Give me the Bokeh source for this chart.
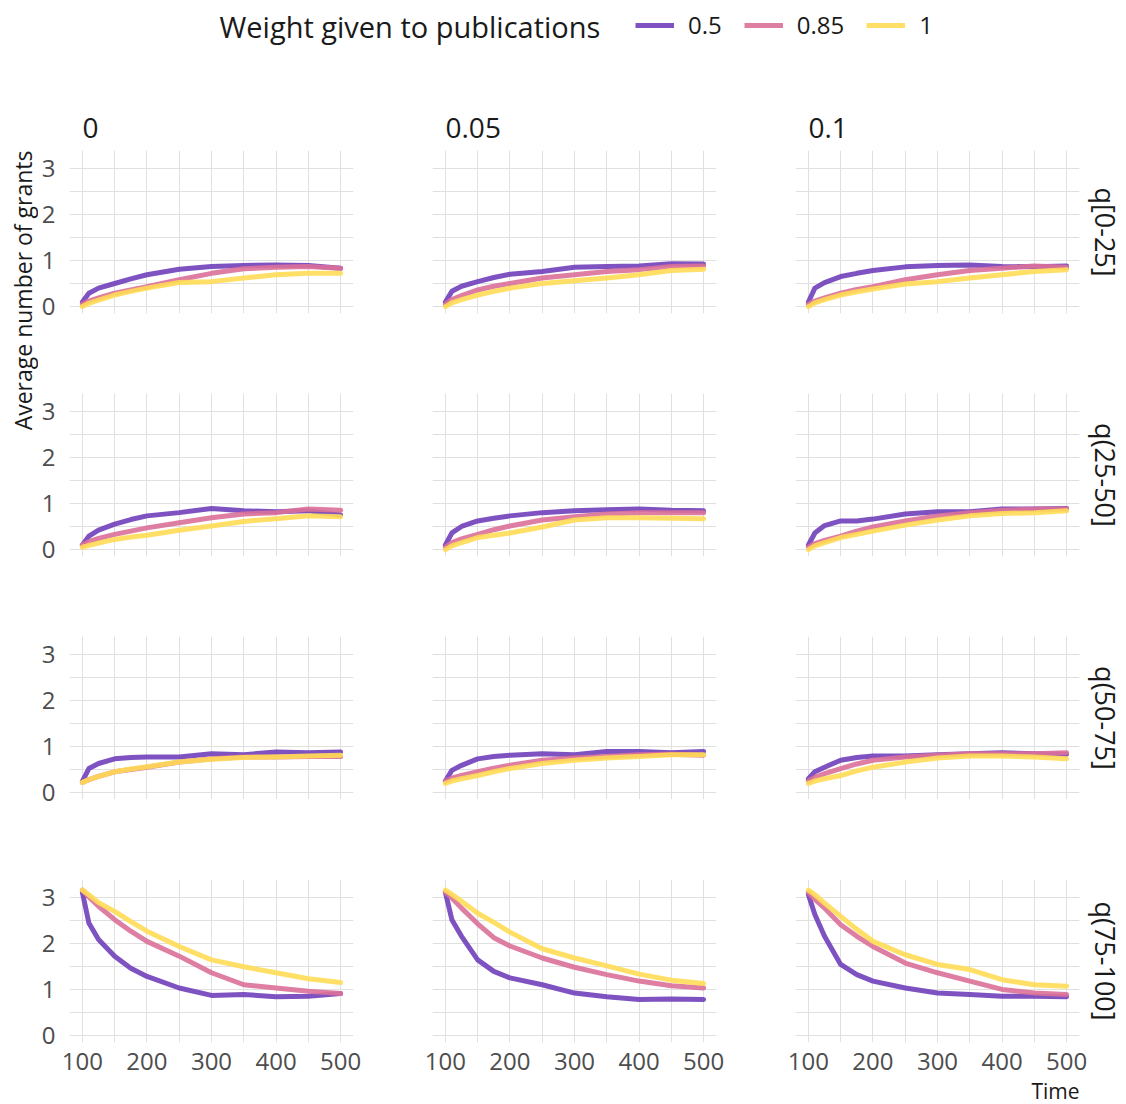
import numpy as np
from bokeh.plotting import figure
from bokeh.layouts import row, column
from bokeh.models import Range1d, FixedTicker, Title, Label, Legend, LegendItem
from bokeh.embed import file_html
from bokeh.resources import INLINE

# ---------------- data ----------------
time = [100, 110, 125, 150, 175, 200, 250, 300, 350, 400, 450, 500]
weight_labels = ["0.5", "0.85", "1"]
col_labels = ["0", "0.05", "0.1"]
row_labels = ["q[0-25]", "q(25-50]", "q(50-75]", "q(75-100]"]
x_ticks = [100, 200, 300, 400, 500]
y_ticks = [0, 1, 2, 3]

# row q[0-25]
q1_c0_w050 = [0.10, 0.29, 0.40, 0.50, 0.60, 0.69, 0.81, 0.87, 0.89, 0.90, 0.89, 0.83]
q1_c0_w085 = [0.05, 0.12, 0.19, 0.29, 0.36, 0.43, 0.58, 0.72, 0.82, 0.85, 0.87, 0.83]
q1_c0_w100 = [0.00, 0.07, 0.14, 0.25, 0.33, 0.40, 0.52, 0.54, 0.62, 0.69, 0.72, 0.72]
q1_c1_w050 = [0.10, 0.33, 0.44, 0.54, 0.63, 0.70, 0.76, 0.85, 0.87, 0.88, 0.93, 0.92]
q1_c1_w085 = [0.05, 0.15, 0.24, 0.36, 0.44, 0.50, 0.62, 0.69, 0.76, 0.80, 0.87, 0.88]
q1_c1_w100 = [0.00, 0.08, 0.15, 0.25, 0.33, 0.40, 0.50, 0.56, 0.62, 0.69, 0.78, 0.81]
q1_c2_w050 = [0.10, 0.40, 0.52, 0.65, 0.72, 0.78, 0.86, 0.89, 0.90, 0.87, 0.86, 0.88]
q1_c2_w085 = [0.05, 0.12, 0.19, 0.29, 0.37, 0.43, 0.58, 0.69, 0.78, 0.83, 0.88, 0.85]
q1_c2_w100 = [0.00, 0.08, 0.15, 0.25, 0.32, 0.38, 0.49, 0.54, 0.62, 0.69, 0.76, 0.80]
# row q(25-50]
q2_c0_w050 = [0.10, 0.29, 0.42, 0.55, 0.65, 0.73, 0.80, 0.89, 0.84, 0.82, 0.84, 0.75]
q2_c0_w085 = [0.10, 0.17, 0.24, 0.33, 0.40, 0.47, 0.58, 0.69, 0.77, 0.80, 0.88, 0.85]
q2_c0_w100 = [0.05, 0.09, 0.14, 0.22, 0.27, 0.31, 0.42, 0.51, 0.61, 0.67, 0.73, 0.71]
q2_c1_w050 = [0.10, 0.36, 0.50, 0.62, 0.68, 0.73, 0.80, 0.84, 0.86, 0.88, 0.85, 0.84]
q2_c1_w085 = [0.05, 0.15, 0.23, 0.33, 0.43, 0.51, 0.64, 0.71, 0.77, 0.80, 0.80, 0.80]
q2_c1_w100 = [0.00, 0.08, 0.15, 0.26, 0.31, 0.36, 0.49, 0.64, 0.69, 0.69, 0.68, 0.67]
q2_c2_w050 = [0.10, 0.36, 0.52, 0.62, 0.62, 0.66, 0.77, 0.82, 0.82, 0.88, 0.88, 0.89]
q2_c2_w085 = [0.05, 0.13, 0.20, 0.29, 0.40, 0.49, 0.62, 0.73, 0.80, 0.85, 0.88, 0.88]
q2_c2_w100 = [0.00, 0.08, 0.15, 0.26, 0.33, 0.40, 0.53, 0.64, 0.73, 0.78, 0.80, 0.84]
# row q(50-75]
q3_c0_w050 = [0.25, 0.52, 0.63, 0.73, 0.76, 0.77, 0.77, 0.84, 0.82, 0.88, 0.86, 0.88]
q3_c0_w085 = [0.22, 0.28, 0.35, 0.45, 0.50, 0.55, 0.66, 0.73, 0.77, 0.77, 0.78, 0.78]
q3_c0_w100 = [0.22, 0.28, 0.35, 0.45, 0.51, 0.56, 0.66, 0.72, 0.76, 0.77, 0.79, 0.81]
q3_c1_w050 = [0.25, 0.48, 0.59, 0.73, 0.78, 0.81, 0.84, 0.82, 0.89, 0.89, 0.86, 0.89]
q3_c1_w085 = [0.25, 0.31, 0.37, 0.45, 0.53, 0.59, 0.70, 0.75, 0.78, 0.82, 0.83, 0.81]
q3_c1_w100 = [0.20, 0.25, 0.30, 0.37, 0.45, 0.52, 0.63, 0.70, 0.75, 0.78, 0.82, 0.82]
q3_c2_w050 = [0.30, 0.45, 0.55, 0.70, 0.76, 0.79, 0.79, 0.82, 0.84, 0.86, 0.84, 0.83]
q3_c2_w085 = [0.25, 0.33, 0.41, 0.52, 0.62, 0.70, 0.77, 0.81, 0.84, 0.84, 0.84, 0.86]
q3_c2_w100 = [0.20, 0.25, 0.30, 0.37, 0.47, 0.55, 0.66, 0.75, 0.79, 0.79, 0.77, 0.73]
# row q(75-100]
q4_c0_w050 = [3.10, 2.44, 2.08, 1.72, 1.46, 1.28, 1.03, 0.87, 0.89, 0.84, 0.85, 0.91]
q4_c0_w085 = [3.15, 3.00, 2.80, 2.51, 2.26, 2.04, 1.72, 1.36, 1.10, 1.03, 0.96, 0.91]
q4_c0_w100 = [3.15, 3.05, 2.88, 2.69, 2.47, 2.26, 1.93, 1.64, 1.49, 1.36, 1.23, 1.15]
q4_c1_w050 = [3.10, 2.51, 2.15, 1.64, 1.39, 1.25, 1.10, 0.92, 0.84, 0.78, 0.79, 0.78]
q4_c1_w085 = [3.10, 2.98, 2.76, 2.42, 2.12, 1.94, 1.68, 1.48, 1.32, 1.18, 1.08, 1.03]
q4_c1_w100 = [3.15, 3.06, 2.91, 2.65, 2.45, 2.24, 1.88, 1.68, 1.51, 1.33, 1.20, 1.13]
q4_c2_w050 = [3.05, 2.62, 2.15, 1.54, 1.32, 1.18, 1.03, 0.92, 0.89, 0.85, 0.85, 0.84]
q4_c2_w085 = [3.10, 2.95, 2.76, 2.40, 2.15, 1.93, 1.57, 1.36, 1.18, 1.00, 0.92, 0.89]
q4_c2_w100 = [3.15, 3.05, 2.87, 2.58, 2.30, 2.04, 1.75, 1.54, 1.43, 1.21, 1.10, 1.07]

panels = [
    [[q1_c0_w050, q1_c0_w085, q1_c0_w100], [q1_c1_w050, q1_c1_w085, q1_c1_w100], [q1_c2_w050, q1_c2_w085, q1_c2_w100]],
    [[q2_c0_w050, q2_c0_w085, q2_c0_w100], [q2_c1_w050, q2_c1_w085, q2_c1_w100], [q2_c2_w050, q2_c2_w085, q2_c2_w100]],
    [[q3_c0_w050, q3_c0_w085, q3_c0_w100], [q3_c1_w050, q3_c1_w085, q3_c1_w100], [q3_c2_w050, q3_c2_w085, q3_c2_w100]],
    [[q4_c0_w050, q4_c0_w085, q4_c0_w100], [q4_c1_w050, q4_c1_w085, q4_c1_w100], [q4_c2_w050, q4_c2_w085, q4_c2_w100]],
]

# ---------------- style ----------------
FONT = "Open Sans"
COLORS = ["#7040BA", "#DB7099", "#FFDB55"]
ALPHA = 0.9
GRID = "#e0e0e0"
TEXT = "#1a1a1a"
TICK = "#4d4d4d"

FW, FH = 284, 163
col_w_left = [30, 60, 60]
col_w_right = [19, 19, 46]
row_top = [90, 42, 42, 42]
row_bottom = [38, 38, 38, 55]
LEG_H = 60
STRIP_W = 38

rows = []
for r in range(4):
    figs = []
    for c in range(3):
        p = figure(frame_width=FW, frame_height=FH,
                   x_range=Range1d(80, 520), y_range=Range1d(-0.15, 3.38),
                   output_backend="svg", toolbar_location=None,
                   min_border_left=col_w_left[c], min_border_right=col_w_right[c],
                   min_border_top=row_top[r], min_border_bottom=row_bottom[r],
                   outline_line_color=None, background_fill_color="white",
                   border_fill_color="white")
        p.xaxis.ticker = FixedTicker(ticks=x_ticks)
        p.yaxis.ticker = FixedTicker(ticks=y_ticks)
        p.xgrid.ticker = FixedTicker(ticks=x_ticks, minor_ticks=[150, 250, 350, 450])
        p.ygrid.ticker = FixedTicker(ticks=y_ticks, minor_ticks=[0.5, 1.5, 2.5])
        for g in (p.xgrid, p.ygrid):
            g.grid_line_color = GRID
            g.grid_line_width = 1
            g.minor_grid_line_color = GRID
            g.minor_grid_line_width = 1
        for ax in (p.xaxis, p.yaxis):
            ax.axis_line_color = None
            ax.major_tick_line_color = None
            ax.minor_tick_line_color = None
            ax.major_label_text_font = FONT
            ax.major_label_text_font_size = "24px"
            ax.major_label_text_color = TICK
        p.yaxis.major_label_standoff = 8
        p.xaxis.major_label_standoff = 4
        if r < 3:
            p.xaxis.visible = False
        if c > 0:
            p.yaxis.visible = False

        for k in range(3):
            p.line(time, panels[r][c][k], line_color=COLORS[k], line_alpha=ALPHA,
                   line_width=5, line_join="round", line_cap="round")

        if r == 0:
            p.title.text = col_labels[c]
            p.title.align = "left"
            p.title.offset = 13
            p.title.text_font = FONT
            p.title.text_font_size = "28px"
            p.title.text_font_style = "normal"
            p.title.text_color = TEXT
            p.title.standoff = 25
        if c == 2:
            p.add_layout(Title(text=row_labels[r], align="center", text_font=FONT,
                               text_font_size="27px", text_font_style="normal",
                               text_color=TEXT, standoff=14), "right")
        if r == 3 and c == 2:
            p.add_layout(Title(text="Time", align="right", text_font=FONT,
                               text_font_size="21px", text_font_style="normal",
                               text_color=TEXT, standoff=5), "below")
        figs.append(p)
    rows.append(row(*figs))

grid_w = sum(col_w_left) + sum(col_w_right) + 3 * FW
total_h = LEG_H + sum(row_top) + sum(row_bottom) + 4 * FH

# ---------------- legend strip ----------------
lg = figure(width=grid_w, height=LEG_H, x_range=Range1d(0, grid_w), y_range=Range1d(0, LEG_H),
            x_axis_location=None, y_axis_location=None, min_border=0,
            output_backend="svg", toolbar_location=None, outline_line_color=None)
lg.grid.visible = False
lg.add_layout(Label(x=181, y=LEG_H - 26, text="Weight given to publications", text_font=FONT,
                    text_font_size="29px", text_baseline="middle", text_color=TEXT))
items = []
for k in range(3):
    rr = lg.line(x=[-100, -90], y=[-100, -100], line_color=COLORS[k], line_alpha=ALPHA, line_width=5)
    items.append(LegendItem(label=weight_labels[k], renderers=[rr]))
leg = Legend(items=items, location=(597, LEG_H - 26 - 15), orientation="horizontal",
             glyph_width=39, glyph_height=30, label_standoff=14, spacing=22,
             padding=0, margin=0, border_line_color=None, background_fill_alpha=0,
             label_text_font=FONT, label_text_font_size="24px", label_text_color=TEXT,
             label_text_baseline="middle")
lg.add_layout(leg)

# ---------------- y title strip ----------------
ys = figure(width=STRIP_W, height=total_h, x_range=Range1d(0, STRIP_W), y_range=Range1d(0, total_h),
            x_axis_location=None, y_axis_location=None, min_border=0,
            output_backend="svg", toolbar_location=None, outline_line_color=None)
ys.grid.visible = False
ys.add_layout(Label(x=22, y=total_h - 150, text="Average number of grants", angle=np.pi / 2,
                    text_align="right", text_baseline="middle", text_font=FONT,
                    text_font_size="23px", text_color=TEXT))

layout = row(ys, column(lg, *rows))
open("out.html", "w").write(file_html(layout, INLINE))
